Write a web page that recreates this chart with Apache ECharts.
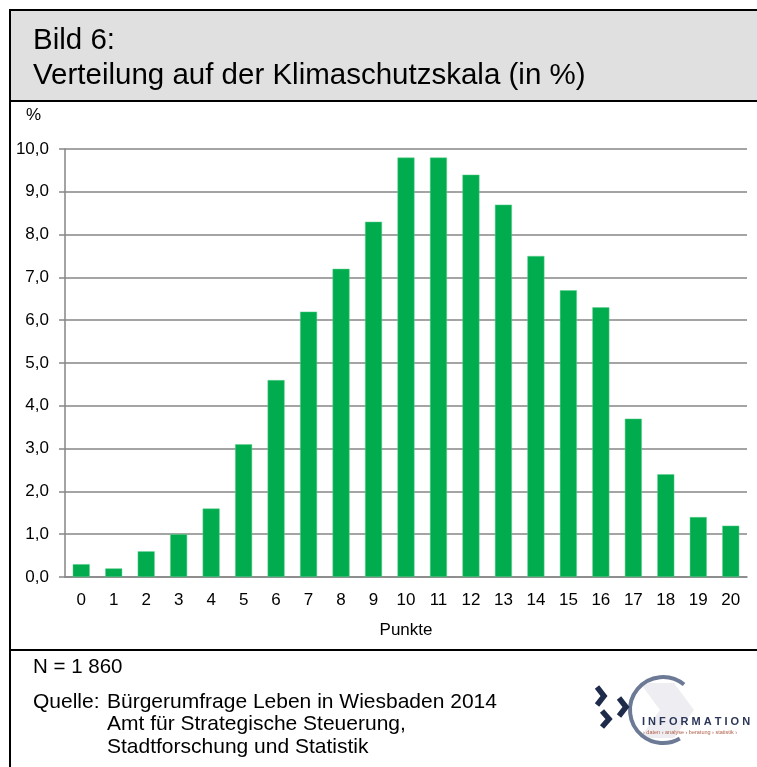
<!DOCTYPE html>
<html lang="de">
<head>
    <meta charset="UTF-8"/>
    <title>Bild 6</title>
    <script src="https://cdn.jsdelivr.net/npm/echarts@6/dist/echarts.min.js"></script>
    <style>
        html, body { margin: 0; padding: 0; background: #fff; }
    </style>
</head>
<body>

<div id="main" style="width: 757px;height:767px;"></div>

<script type="text/javascript">
    // Daten
    var punkte = ['0','1','2','3','4','5','6','7','8','9','10','11','12','13','14','15','16','17','18','19','20'];
    var anteile = [0.3, 0.2, 0.6, 1.0, 1.6, 3.1, 4.6, 6.2, 7.2, 8.3, 9.8, 9.8, 9.4, 8.7, 7.5, 6.7, 6.3, 3.7, 2.4, 1.4, 1.2];

    var titel1 = 'Bild 6:';
    var titel2 = 'Verteilung auf der Klimaschutzskala (in %)';
    var quelle = ['Bürgerumfrage Leben in Wiesbaden 2014', 'Amt für Strategische Steuerung,', 'Stadtforschung und Statistik'];

    var font = '"Liberation Sans", Arial, sans-serif';
    var grau = '#868686';
    var logoBlau = '#1f2b4a';

    var myChart = echarts.init(document.getElementById('main'));

    var option = {
        animation: false,
        textStyle: { fontFamily: font },
        grid: { left: 65, right: 10, top: 149, bottom: 190 },
        xAxis: {
            type: 'category',
            data: punkte,
            name: 'Punkte',
            nameLocation: 'middle',
            nameGap: 45,
            nameTextStyle: { color: '#000', fontSize: 17, fontFamily: font },
            axisLine: { lineStyle: { color: grau, width: 1.5 } },
            axisTick: { length: 5, lineStyle: { color: grau, width: 1.5 } },
            axisLabel: { color: '#000', fontSize: 17, margin: 15, fontFamily: font }
        },
        yAxis: {
            type: 'value',
            min: 0,
            max: 10,
            interval: 1,
            axisLine: { show: true, lineStyle: { color: grau, width: 1.5 } },
            axisTick: { show: true, length: 6, lineStyle: { color: grau, width: 1.5 } },
            splitLine: { lineStyle: { color: grau, width: 1.5 } },
            axisLabel: {
                color: '#000', fontSize: 17, margin: 16, fontFamily: font,
                formatter: function (v) { return v.toFixed(1).replace('.', ','); }
            }
        },
        series: [{
            type: 'bar',
            data: anteile,
            barWidth: 17,
            itemStyle: { color: '#00ac4e', borderColor: '#5fd08e', borderWidth: 0.5 }
        }],
        graphic: [
            // Kopfzeile
            { type: 'rect', shape: { x: 10, y: 10, width: 760, height: 91 },
              style: { fill: '#e0e0e0', stroke: '#000', lineWidth: 2 }, z: -1 },
            { type: 'text', left: 33, top: 26,
              style: { text: titel1, fontSize: 29.5, fontFamily: font, fill: '#000' } },
            { type: 'text', left: 33, top: 61,
              style: { text: titel2, fontSize: 29.5, fontFamily: font, fill: '#000' } },
            // linker Rand und Trennlinie
            { type: 'line', shape: { x1: 10, y1: 10, x2: 10, y2: 767 }, style: { stroke: '#000', lineWidth: 2 } },
            { type: 'line', shape: { x1: 10, y1: 650, x2: 757, y2: 650 }, style: { stroke: '#000', lineWidth: 2 } },
            { type: 'text', left: 26, top: 107,
              style: { text: '%', fontSize: 17, fontFamily: font, fill: '#000' } },
            // Fußzeile
            { type: 'text', left: 33, top: 657,
              style: { text: 'N = 1 860', fontSize: 20.5, fontFamily: font, fill: '#000' } },
            { type: 'text', left: 33, top: 692,
              style: { text: 'Quelle:', fontSize: 21, fontFamily: font, fill: '#000' } },
            { type: 'text', left: 107, top: 692,
              style: { text: quelle[0], fontSize: 21, fontFamily: font, fill: '#000' } },
            { type: 'text', left: 107, top: 714,
              style: { text: quelle[1], fontSize: 21, fontFamily: font, fill: '#000' } },
            { type: 'text', left: 107, top: 737,
              style: { text: quelle[2], fontSize: 21, fontFamily: font, fill: '#000' } },
            // Logo
            { type: 'polygon', shape: { points: [[640, 683], [674, 683], [694, 710], [674, 738], [640, 738], [660, 710]] },
              style: { fill: '#eeeef2' } },
            { type: 'arc', shape: { cx: 663, cy: 710, r: 33, startAngle: -Math.PI * 0.28, endAngle: Math.PI * 0.33, clockwise: false },
              style: { stroke: '#6d7a96', lineWidth: 4, fill: null } },
            { type: 'polyline', shape: { points: [[597, 687], [604, 696], [597, 705]] },
              style: { stroke: logoBlau, lineWidth: 5.5, fill: null } },
            { type: 'polyline', shape: { points: [[619, 698], [626, 707], [619, 716]] },
              style: { stroke: logoBlau, lineWidth: 5.5, fill: null } },
            { type: 'polyline', shape: { points: [[602, 711], [609, 719], [602, 727]] },
              style: { stroke: logoBlau, lineWidth: 5.5, fill: null } },
            { type: 'text', left: 642, top: 716,
              style: { text: 'I N F O R M A T I O N', fontSize: 11, fontWeight: 'bold', fontFamily: font, fill: '#2b3658' } },
            { type: 'text', left: 643, top: 729,
              style: { text: '› daten › analyse › beratung › statistik ›', fontSize: 5.5, fontFamily: font, fill: '#b0604a' } }
        ]
    };

    myChart.setOption(option);
</script>
</body>
</html>
